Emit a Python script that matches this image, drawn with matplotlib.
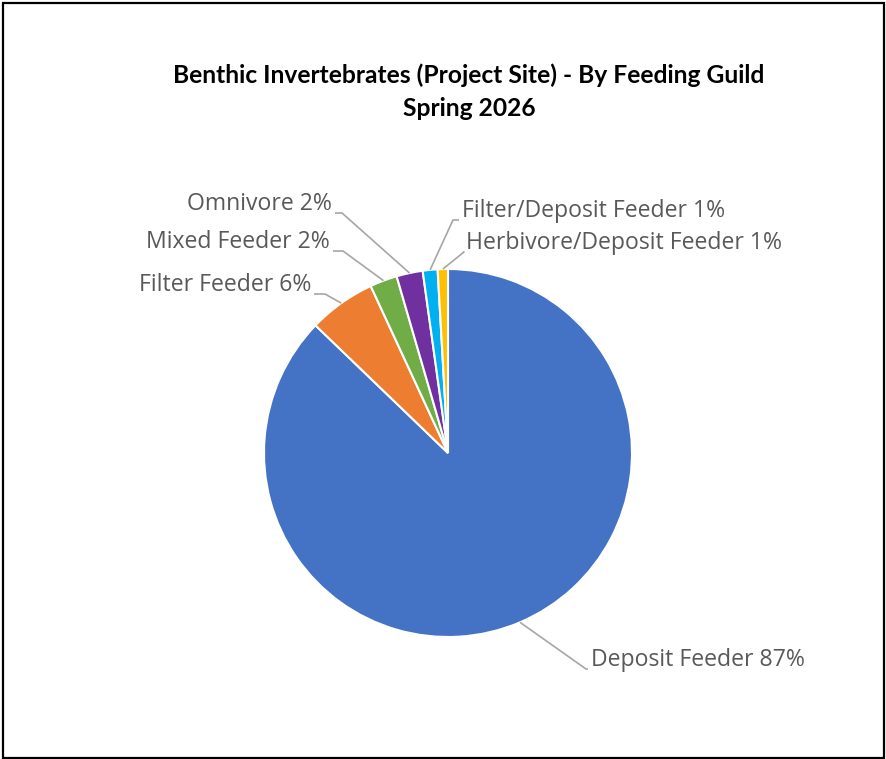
import matplotlib

matplotlib.use("Agg")
import matplotlib.pyplot as plt
import numpy as np

# guild shares (percent)
guilds = ["Deposit Feeder", "Filter Feeder", "Mixed Feeder", "Omnivore",
          "Filter/Deposit Feeder", "Herbivore/Deposit Feeder"]
shares = [87.2, 5.9, 2.4, 2.3, 1.3, 0.9]
colors = ["#4472C4", "#ED7D31", "#70AD47", "#7030A0", "#00B0F0", "#FFC000"]

W, H = 886, 759
LABEL_COLOR = "#595959"
LINE_COLOR = "#A6A6A6"

# label placement in pixels from top-left: (text x, text y, ha, elbow x)
label_pos = [
    (591, 660, "left", 586),
    (311, 285, "right", 325),
    (330, 242, "right", 343),
    (332, 204, "right", 342),
    (462, 211, "left", 453),
    (466, 243, "left", 464),
]

fig = plt.figure(figsize=(W / 100, H / 100), dpi=100)
ax = fig.add_axes([0, 0, 1, 1])

cx, cy, r = 448, H - 453, 184
wedges, _ = ax.pie(shares, colors=colors, startangle=90, counterclock=False,
                   center=(cx, cy), radius=r,
                   wedgeprops=dict(edgecolor="white", linewidth=1.5))
ax.set_xlim(0, W)
ax.set_ylim(0, H)
ax.set_aspect("equal")
ax.axis("off")

for w, name, val, (tx, ty, ha, ex) in zip(wedges, guilds, shares, label_pos):
    mid = np.deg2rad((w.theta1 + w.theta2) / 2)
    px, py = cx + r * np.cos(mid), cy + r * np.sin(mid)
    ly = H - ty - 9
    ax.plot([px, ex, tx + (3 if ha == "right" else -3)], [py, ly, ly],
            color=LINE_COLOR, lw=1.2, solid_capstyle="butt")
    ax.text(tx, H - ty, f"{name} {val:.0f}%", ha=ha, va="center",
            fontsize=16.6, color=LABEL_COLOR, family="Open Sans")

fig.text(469 / W, 1 - 75 / H, "Benthic Invertebrates (Project Site) - By Feeding Guild",
         ha="center", va="center", fontsize=17.7, fontweight="bold", family="Lato")
fig.text(469 / W, 1 - 108 / H, "Spring 2026", ha="center", va="center",
         fontsize=17.7, fontweight="bold", family="Lato")

# outer frame
fig.add_artist(plt.Rectangle((2.5 / W, 1.5 / H), (W - 5) / W, (H - 4) / H,
                             transform=fig.transFigure, fill=False,
                             edgecolor="black", lw=1.6))

fig.savefig("out.png", dpi=100)
